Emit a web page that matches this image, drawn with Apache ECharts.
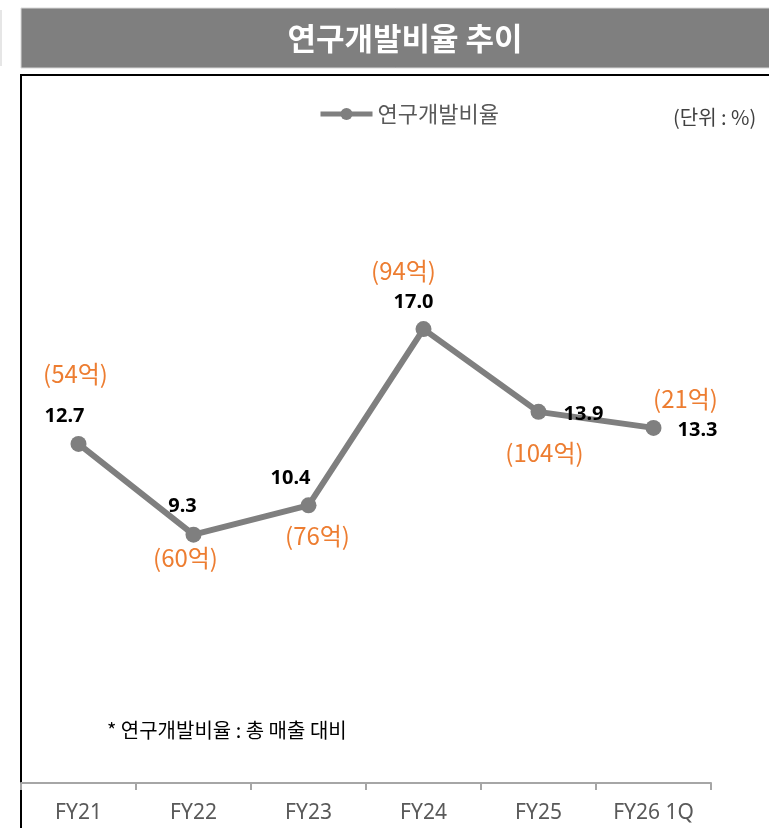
<!DOCTYPE html>
<html>
<head>
<meta charset="utf-8">
<script src="https://cdn.jsdelivr.net/npm/echarts@6/dist/echarts.min.js"></script>
<style>
    html, body {margin: 0; padding: 0; background: #fff;}
    #chart {width: 769px; height: 828px;}
</style>
</head>
<body>
<div id="chart"></div>
<script>
const years = ["FY21", "FY22", "FY23", "FY24", "FY25", "FY26 1Q"];
const ratios = [12.7, 9.3, 10.4, 17.0, 13.9, 13.3];
const amounts = [54, 60, 76, 94, 104, 21];

// label placement around each point (pixels)
const ratioOffsets = [[-14, -28], [-11, -28], [-18, -27], [-10, -27], [45, 2], [44, 2]];
const amountOffsets = [[-3, -70], [-8, 23], [9, 31], [-20, -58], [6, 41], [32, -29]];

const chart = echarts.init(document.getElementById("chart"));

chart.setOption({
    animation: false,
    graphic: [
        {type: "rect", shape: {x: 0, y: 10, width: 2, height: 56}, style: {fill: "#e6e6e6"}},
        {type: "rect", shape: {x: 21, y: 8, width: 760, height: 60},
            style: {fill: "#7f7f7f", stroke: "#d9d9d9", lineWidth: 1}},
        {type: "text", x: 405, y: 38,
            style: {text: "연구개발비율 추이", fill: "#fff", font: "bold 31px 'Noto Sans CJK KR'",
                align: "center", verticalAlign: "middle"}},
        {type: "polyline", shape: {points: [[21, 830], [21, 75], [772, 75]]},
            style: {stroke: "#000", lineWidth: 2, fill: null}},
        {type: "text", x: 673, y: 117,
            style: {text: "(단위 : %)", fill: "#404040", font: "20px 'Noto Sans CJK KR'",
                verticalAlign: "middle"}},
        {type: "text", x: 107, y: 730,
            style: {text: "* 연구개발비율 : 총 매출 대비", fill: "#000", font: "20px 'Noto Sans CJK KR'",
                verticalAlign: "middle"}}
    ],
    legend: {
        data: ["연구개발비율"],
        left: 313,
        top: 98,
        itemWidth: 52,
        itemHeight: 15,
        itemGap: 6,
        lineStyle: {width: 5},
        textStyle: {fontFamily: "Noto Sans CJK KR", fontSize: 22, color: "#595959"}
    },
    grid: {left: 21, right: 58, top: 115.5, bottom: 45},
    xAxis: {
        type: "category",
        data: years,
        axisLine: {lineStyle: {color: "#a6a6a6", width: 2}},
        axisTick: {show: true, length: 7, lineStyle: {color: "#a6a6a6", width: 2}},
        axisLabel: {fontFamily: "Noto Sans", fontSize: 21, color: "#595959", margin: 20}
    },
    yAxis: {type: "value", min: 0, max: 25, show: false},
    series: [
        {
            name: "연구개발비율",
            type: "line",
            z: 3,
            symbol: "circle",
            symbolSize: 16,
            lineStyle: {color: "#7f7f7f", width: 6},
            itemStyle: {color: "#7f7f7f"},
            data: ratios.map((v, i) => ({
                value: v,
                label: {offset: ratioOffsets[i]}
            })),
            label: {
                show: true,
                position: "inside",
                formatter: p => p.value.toFixed(1),
                fontFamily: "Noto Sans",
                fontWeight: "bold",
                fontSize: 20,
                color: "#000"
            }
        },
        {
            name: "금액",
            type: "line",
            z: 2,
            silent: true,
            symbol: "circle",
            symbolSize: 1,
            lineStyle: {opacity: 0},
            itemStyle: {color: "transparent"},
            data: ratios.map((v, i) => ({
                value: v,
                label: {offset: amountOffsets[i]}
            })),
            label: {
                show: true,
                position: "inside",
                formatter: p => `(${amounts[p.dataIndex]}억)`,
                fontFamily: "Noto Sans CJK KR",
                fontSize: 24,
                color: "#ed7d31"
            }
        }
    ]
});

window.addEventListener("resize", () => chart.resize());
</script>
</body>
</html>
